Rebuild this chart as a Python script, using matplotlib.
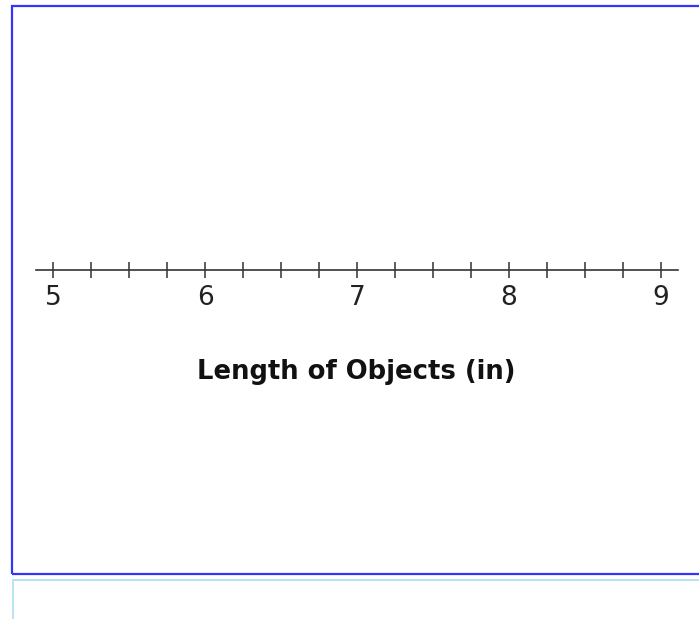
#!/usr/bin/env python3
import matplotlib.pyplot as plt
from matplotlib.patches import Rectangle
from matplotlib.ticker import MultipleLocator, FixedLocator

# number line values
lineStart = 4.884
lineEnd = 9.114
majorTicks = [5, 6, 7, 8, 9]
minorStep = 0.25
xTitle = 'Length of Objects (in)'

W, H = 699, 619

fig = plt.figure(figsize=(W / 100, H / 100), dpi=100)
fig.patch.set_facecolor('white')

# outer frames (pixel coordinates, origin top-left)
def px(x, y):
    return (x / W, 1 - y / H)

fig.patches.append(Rectangle(px(11.5, 574), (W + 20) / W, (574 - 5.5) / H,
                             transform=fig.transFigure, fill=False,
                             edgecolor='#3333ff', linewidth=1.6))
fig.patches.append(Rectangle(px(12.5, H + 20), (W + 20) / W, (H + 20 - 580) / H,
                             transform=fig.transFigure, fill=False,
                             edgecolor='#b5e3f2', linewidth=1.4))

# number line axis
left = 35.7 / W
right = 678 / W
ax = fig.add_axes([left, 1 - 270.5 / H, right - left, 0.001])
ax.set_xlim(lineStart, lineEnd)
ax.set_ylim(0, 1)
ax.patch.set_visible(False)
for side in ['top', 'left', 'right']:
    ax.spines[side].set_visible(False)
ax.spines['bottom'].set_color('#333333')
ax.spines['bottom'].set_linewidth(1.2)
ax.set_yticks([])

ax.xaxis.set_major_locator(FixedLocator(majorTicks))
ax.xaxis.set_minor_locator(MultipleLocator(minorStep))
ax.tick_params(axis='x', which='both', direction='inout', length=11,
               width=1.1, color='#333333')
ax.tick_params(axis='x', which='major', labelsize=19, pad=5,
               labelcolor='#222222')
ax.set_xticklabels([str(t) for t in majorTicks])

fig.text(356.5 / W, 1 - 379 / H, xTitle, ha='center', va='baseline',
         fontsize=18.6, fontweight='bold', color='#111111')

plt.savefig('out.png', dpi=100)
